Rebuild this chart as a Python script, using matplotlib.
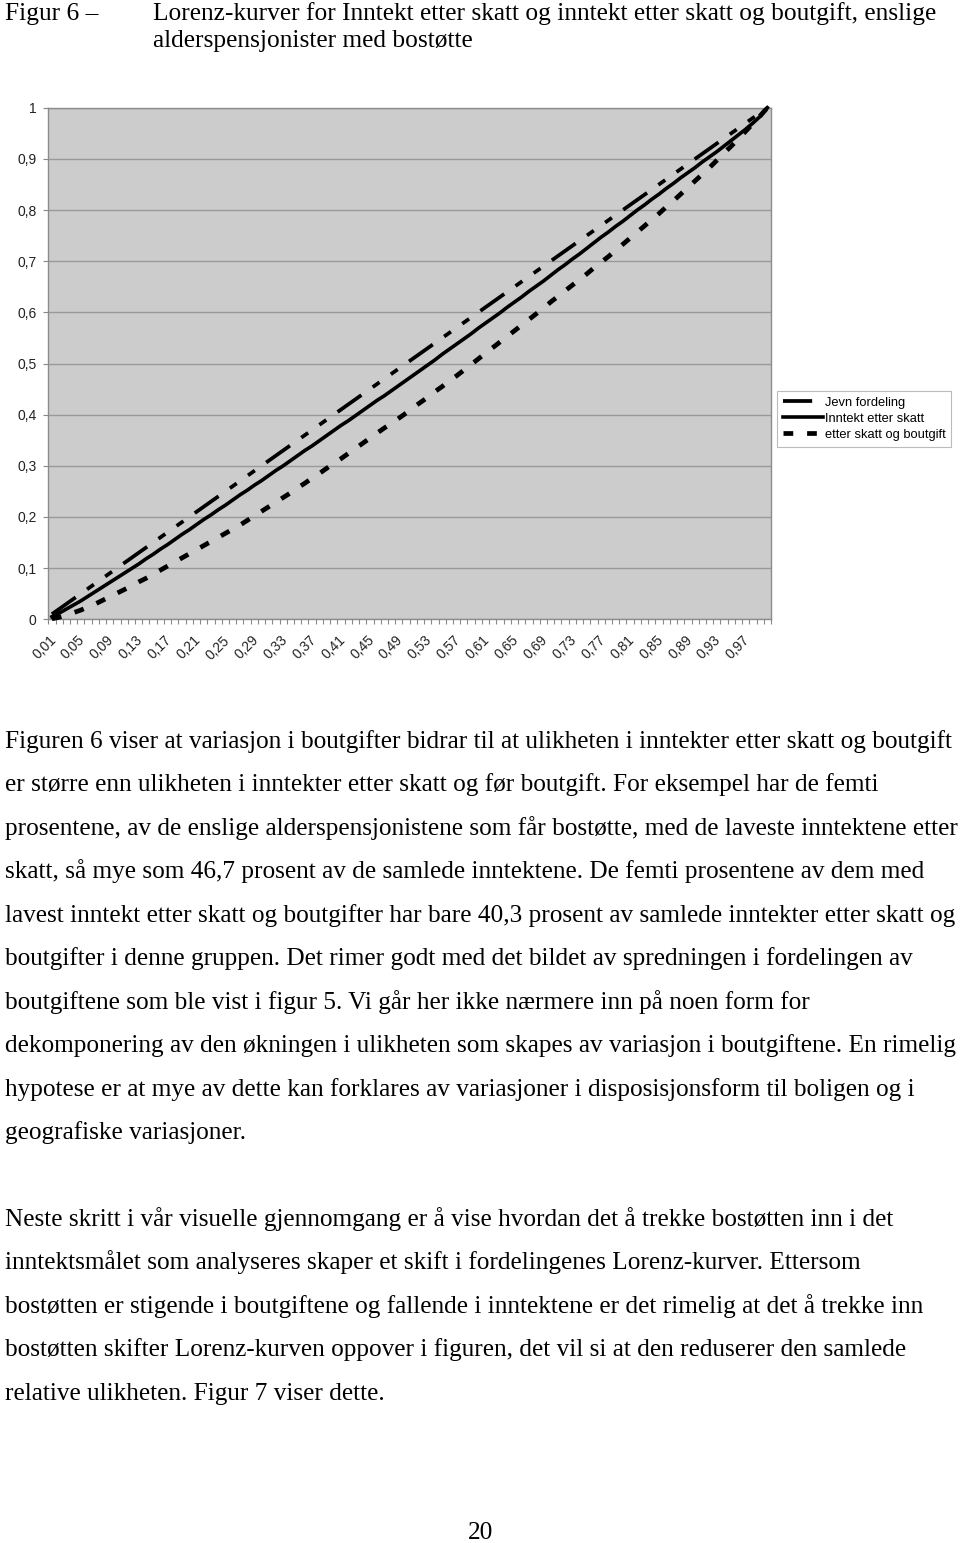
import matplotlib
matplotlib.use("Agg")
import matplotlib.pyplot as plt
from matplotlib.transforms import ScaledTranslation

# Andel av personene (kategorier på x-aksen)
andel = [round(0.01 * i, 2) for i in range(1, 101)]
andel_labels = [f"{a:.2f}".replace(".", ",") for a in andel]

# Jevn fordeling: kumulativ andel lik andel personer
jevn_fordeling = [
    0.01, 0.02, 0.03, 0.04, 0.05, 0.06, 0.07, 0.08, 0.09, 0.10,
    0.11, 0.12, 0.13, 0.14, 0.15, 0.16, 0.17, 0.18, 0.19, 0.20,
    0.21, 0.22, 0.23, 0.24, 0.25, 0.26, 0.27, 0.28, 0.29, 0.30,
    0.31, 0.32, 0.33, 0.34, 0.35, 0.36, 0.37, 0.38, 0.39, 0.40,
    0.41, 0.42, 0.43, 0.44, 0.45, 0.46, 0.47, 0.48, 0.49, 0.50,
    0.51, 0.52, 0.53, 0.54, 0.55, 0.56, 0.57, 0.58, 0.59, 0.60,
    0.61, 0.62, 0.63, 0.64, 0.65, 0.66, 0.67, 0.68, 0.69, 0.70,
    0.71, 0.72, 0.73, 0.74, 0.75, 0.76, 0.77, 0.78, 0.79, 0.80,
    0.81, 0.82, 0.83, 0.84, 0.85, 0.86, 0.87, 0.88, 0.89, 0.90,
    0.91, 0.92, 0.93, 0.94, 0.95, 0.96, 0.97, 0.98, 0.99, 1.00,
]

# Lorenz-kurve, inntekt etter skatt (avlest)
inntekt_etter_skatt = [
    0.005, 0.012, 0.020, 0.028, 0.036, 0.045, 0.054, 0.063, 0.072, 0.081,
    0.090, 0.099, 0.108, 0.118, 0.127, 0.137, 0.146, 0.156, 0.166, 0.175,
    0.185, 0.195, 0.204, 0.214, 0.223, 0.233, 0.243, 0.252, 0.262, 0.271,
    0.281, 0.291, 0.300, 0.310, 0.320, 0.330, 0.339, 0.349, 0.359, 0.369,
    0.379, 0.388, 0.398, 0.408, 0.418, 0.428, 0.437, 0.447, 0.457, 0.467,
    0.477, 0.487, 0.497, 0.507, 0.518, 0.528, 0.538, 0.548, 0.558, 0.569,
    0.579, 0.589, 0.599, 0.610, 0.620, 0.630, 0.641, 0.651, 0.661, 0.672,
    0.683, 0.693, 0.704, 0.714, 0.725, 0.736, 0.747, 0.757, 0.768, 0.778,
    0.789, 0.800, 0.810, 0.821, 0.831, 0.842, 0.852, 0.863, 0.873, 0.883,
    0.894, 0.904, 0.914, 0.925, 0.936, 0.947, 0.958, 0.970, 0.983, 1.000,
]

# Lorenz-kurve, inntekt etter skatt og boutgift (avlest)
etter_skatt_og_boutgift = [
    0.001, 0.004, 0.008, 0.013, 0.018, 0.024, 0.030, 0.037, 0.044, 0.051,
    0.058, 0.065, 0.073, 0.080, 0.088, 0.096, 0.104, 0.112, 0.120, 0.128,
    0.136, 0.144, 0.152, 0.160, 0.168, 0.176, 0.184, 0.193, 0.202, 0.211,
    0.220, 0.229, 0.238, 0.247, 0.257, 0.266, 0.276, 0.285, 0.295, 0.305,
    0.314, 0.324, 0.334, 0.344, 0.354, 0.364, 0.374, 0.383, 0.393, 0.403,
    0.414, 0.424, 0.434, 0.445, 0.455, 0.466, 0.476, 0.487, 0.498, 0.509,
    0.520, 0.531, 0.542, 0.553, 0.564, 0.575, 0.586, 0.597, 0.608, 0.620,
    0.631, 0.642, 0.653, 0.664, 0.675, 0.687, 0.698, 0.709, 0.721, 0.733,
    0.745, 0.757, 0.769, 0.781, 0.793, 0.806, 0.818, 0.831, 0.844, 0.857,
    0.870, 0.883, 0.897, 0.911, 0.925, 0.939, 0.954, 0.969, 0.984, 1.000,
]

y_ticks = [0, 0.1, 0.2, 0.3, 0.4, 0.5, 0.6, 0.7, 0.8, 0.9, 1.0]
y_labels = ["0", "0,1", "0,2", "0,3", "0,4", "0,5", "0,6", "0,7", "0,8", "0,9", "1"]

title_lines = [
    "Lorenz-kurver for Inntekt etter skatt og inntekt etter skatt og boutgift, enslige",
    "alderspensjonister med bostøtte",
]

para1 = [
    "Figuren 6 viser at variasjon i boutgifter bidrar til at ulikheten i inntekter etter skatt og boutgift",
    "er større enn ulikheten i inntekter etter skatt og før boutgift. For eksempel har de femti",
    "prosentene, av de enslige alderspensjonistene som får bostøtte, med de laveste inntektene etter",
    "skatt, så mye som 46,7 prosent av de samlede inntektene. De femti prosentene av dem med",
    "lavest inntekt etter skatt og boutgifter har bare 40,3 prosent av samlede inntekter etter skatt og",
    "boutgifter i denne gruppen. Det rimer godt med det bildet av spredningen i fordelingen av",
    "boutgiftene som ble vist i figur 5. Vi går her ikke nærmere inn på noen form for",
    "dekomponering av den økningen i ulikheten som skapes av variasjon i boutgiftene. En rimelig",
    "hypotese er at mye av dette kan forklares av variasjoner i disposisjonsform til boligen og i",
    "geografiske variasjoner.",
]

para2 = [
    "Neste skritt i vår visuelle gjennomgang er å vise hvordan det å trekke bostøtten inn i det",
    "inntektsmålet som analyseres skaper et skift i fordelingenes Lorenz-kurver. Ettersom",
    "bostøtten er stigende i boutgiftene og fallende i inntektene er det rimelig at det å trekke inn",
    "bostøtten skifter Lorenz-kurven oppover i figuren, det vil si at den reduserer den samlede",
    "relative ulikheten. Figur 7 viser dette.",
]

W, H = 960, 1543
plt.rcParams["lines.scale_dashes"] = False
fig = plt.figure(figsize=(W / 100, H / 100), dpi=100)
renderer = fig.canvas.get_renderer()

SERIF = "Liberation Serif"
SANS = "Liberation Sans"


def fit_size(text, family, target_px, base=12.0):
    t = fig.text(0, 0, text, fontsize=base, family=family)
    w = t.get_window_extent(renderer).width
    t.remove()
    return base * target_px / w


def put(x_px, y_px, text, size, family=SERIF, ha="left"):
    fig.text(x_px / W, 1 - y_px / H, text, fontsize=size, family=family,
             ha=ha, va="baseline", color="black")


# Title
title_size = fit_size(title_lines[0], SERIF, 782)
put(5, 20, "Figur 6 –", title_size)
put(153, 20, title_lines[0], title_size)
put(153, 47, title_lines[1], title_size)

# Chart
left, right, top, bottom = 48.3, 771.0, 107.7, 619.3
ax = fig.add_axes([left / W, 1 - bottom / H, (right - left) / W, (bottom - top) / H])
ax.set_facecolor("#cccccc")
x = list(range(len(andel)))

ax.plot(x, jevn_fordeling, color="black", lw=2.7, clip_on=False,
        linestyle=(0, (21, 10, 6, 10, 6, 10)), solid_capstyle="butt",
        label="Jevn fordeling", zorder=3)
ax.plot(x, inntekt_etter_skatt, color="black", lw=2.6, clip_on=False,
        label="Inntekt etter skatt", zorder=4)
ax.plot(x, etter_skatt_og_boutgift, color="black", lw=3.4, clip_on=False,
        linestyle=(0, (7, 10)), label="etter skatt og boutgift", zorder=5)

ax.set_xlim(-0.5, len(andel) - 0.5)
ax.set_ylim(0, 1)
ax.set_yticks(y_ticks)
ax.set_yticklabels(y_labels, family=SANS, fontsize=10, color="#222222")
ax.grid(axis="y", color="#999999", lw=1.0)
ax.set_axisbelow(True)

ax.set_xticks(x[::4])
ax.set_xticklabels(andel_labels[::4], family=SANS, fontsize=10, color="#222222",
                   rotation=45, ha="right", va="top", rotation_mode="anchor")
ax.set_xticks([i - 0.5 for i in range(len(andel) + 1)], minor=True)
ax.tick_params(axis="x", which="major", length=0, pad=10)
ax.tick_params(axis="x", which="minor", length=3.5, color="#888888", width=0.8)
ax.tick_params(axis="y", length=3.5, color="#888888", width=0.8, pad=5)
offset = ScaledTranslation(-3 / 100, 0, fig.dpi_scale_trans)
for lab in ax.get_xticklabels():
    lab.set_transform(lab.get_transform() + offset)

for side in ["left", "bottom", "top", "right"]:
    ax.spines[side].set_color("#8c8c8c")
    ax.spines[side].set_linewidth(1.0)

leg = ax.legend(loc="upper left", bbox_to_anchor=(777 / W, 1 - 391 / H),
                bbox_transform=fig.transFigure, frameon=True, fancybox=False,
                prop={"family": SANS, "size": 9.3}, handlelength=3.1,
                handletextpad=0.15, borderpad=0.45, labelspacing=0.3,
                borderaxespad=0)
leg.get_frame().set_edgecolor("#aaaaaa")
leg.get_frame().set_linewidth(0.8)

# Body text
body_size = fit_size(para1[0], SERIF, 947)
for k, line in enumerate(para1):
    put(5, 748 + 43.45 * k, line, body_size)
for k, line in enumerate(para2):
    put(5, 1226 + 43.45 * k, line, body_size)

put(481, 1539, "20", body_size, ha="center")

fig.savefig("out.png", dpi=100, facecolor="white")
